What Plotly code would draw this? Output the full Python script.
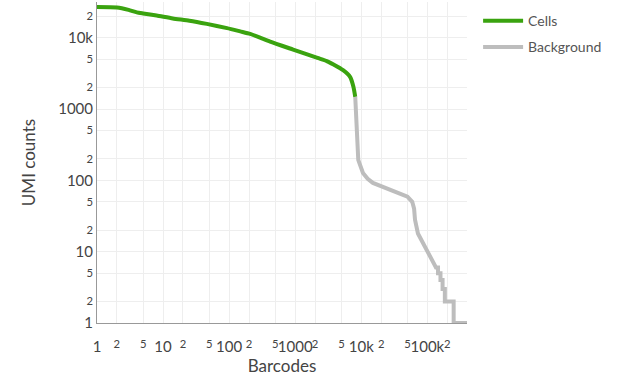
import plotly.graph_objects as go

# Barcode rank data: barcodes sorted by UMI count
cells_rank = [1, 2, 3, 4, 5, 8, 14, 25, 46, 93, 147, 208, 294, 417, 930, 2170, 3000, 3800, 5300, 6800, 7600, 8100]
cells_umi = [26900, 26500, 24500, 22600, 21800, 20400, 18600, 17300, 15600, 13600,
             12250, 11300, 10000, 8800, 6800, 5200, 4700, 4200, 3500, 2800, 2050, 1480]

bg_rank = [8100, 8300, 8400, 8700, 9000, 10600, 12500, 15000, 20000, 27600, 40000,
           50000, 59000, 63000, 65000, 72000, 86000, 102000, 107000, 115000, 124000,
           135000, 145000, 145000, 158000, 158000, 170000, 170000, 184000, 184000,
           250000, 250000, 400000]
bg_umi = [1480, 900, 565, 333, 193, 127, 105, 92, 82, 73, 64,
          59, 50, 40, 28, 18, 13, 10, 9, 8, 7,
          6, 6, 5, 5, 4, 4, 3, 3, 2,
          2, 1, 1]

FONT = "Lato"
TEXT = "#444444"

fig = go.Figure()
fig.add_trace(go.Scatter(x=cells_rank, y=cells_umi, mode="lines", name="Cells",
                         legendgroup="cells",
                         line=dict(color="#3aa30f", width=4, shape="spline", smoothing=0.6),
                         cliponaxis=False))
fig.add_trace(go.Scatter(x=bg_rank, y=bg_umi, mode="lines", name="Background",
                         legendgroup="bg",
                         line=dict(color="#bdbdbd", width=4), cliponaxis=False))

axis_common = dict(type="log", dtick="D2", showgrid=True, gridcolor="#eeeeee",
                   gridwidth=1, showline=True, linecolor="#999999", linewidth=1,
                   zeroline=False, tickfont=dict(size=15, color=TEXT),
                   title_font=dict(size=17, color=TEXT))

fig.update_layout(
    width=617, height=377,
    margin=dict(l=97, r=150, t=2, b=54),
    paper_bgcolor="white", plot_bgcolor="white",
    font=dict(family=FONT, color=TEXT),
    xaxis=dict(axis_common, range=[0, 5.6], ticks="outside", ticklen=10,
               tickcolor="rgba(0,0,0,0)",
               title=dict(text="Barcodes", standoff=6)),
    yaxis=dict(axis_common, range=[0, 4.5], ticks="",
               title=dict(text="UMI counts", standoff=18)),
    legend=dict(x=1.03, y=0.99, xanchor="left", yanchor="top", itemwidth=40,
                font=dict(size=14, color="#555555"), tracegroupgap=5),
    showlegend=True,
)

fig.write_html("out.html")
